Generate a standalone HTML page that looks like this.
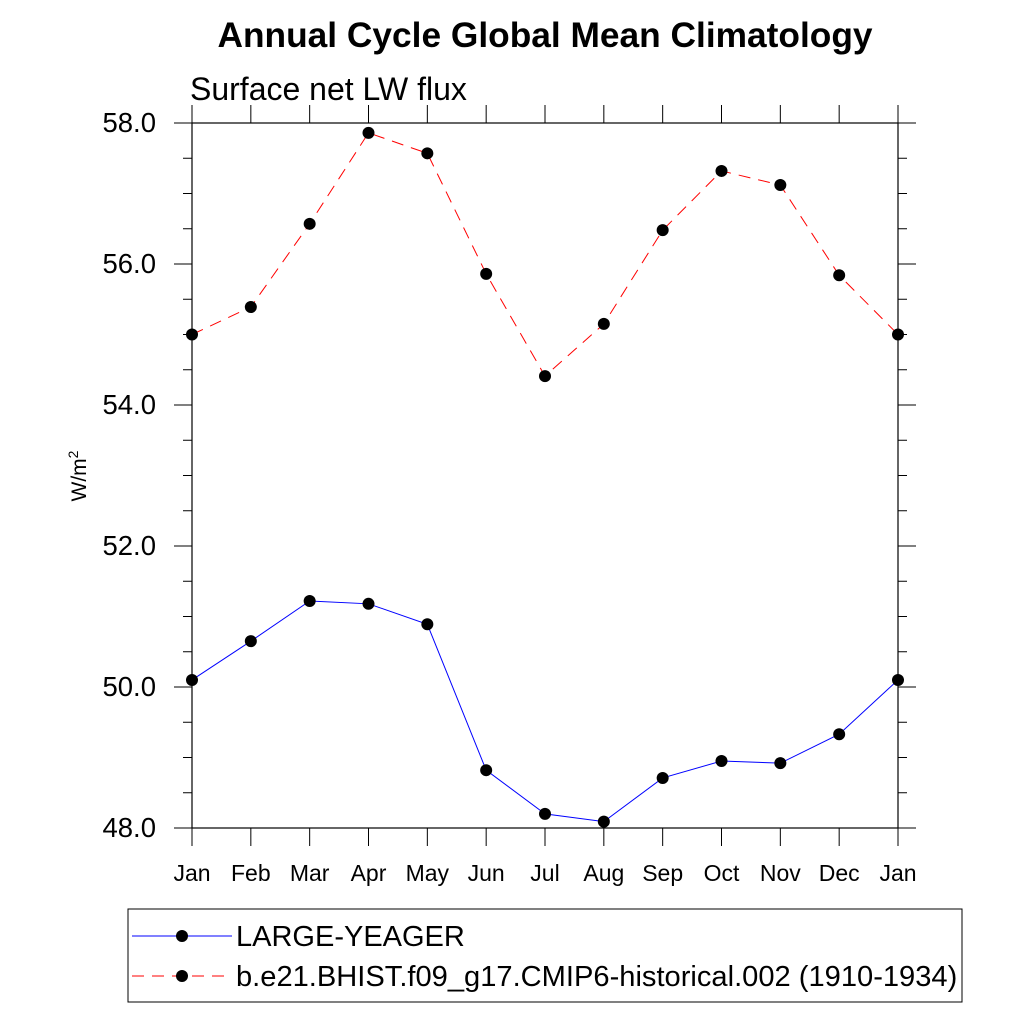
<!DOCTYPE html>
<html><head><meta charset="utf-8"><style>
body{margin:0;background:#fff}
svg text{font-family:"Liberation Sans",sans-serif}
</style></head><body>
<svg id="c" width="1024" height="1024" xmlns="http://www.w3.org/2000/svg">
<text x="545" y="47" font-size="35.3" font-weight="bold" text-anchor="middle">Annual Cycle Global Mean Climatology</text>
<text x="190" y="100" font-size="32">Surface net LW flux</text>
<rect x="192" y="123" width="706" height="705" fill="none" stroke="#000" stroke-width="1.2"/>
<text transform="translate(86,476) rotate(-90)" font-size="21" text-anchor="middle">W/m<tspan dy="-8" font-size="14">2</tspan></text>
<g id="axes"></g>
<g id="series"></g>
<rect x="128" y="909" width="834" height="93" fill="none" stroke="#000" stroke-width="1"/>
<g>
<line x1="132" y1="936" x2="232" y2="936" stroke="#00f" stroke-width="1"/>
<circle cx="182" cy="936" r="6" fill="#000"/>
<text x="236" y="946" font-size="29">LARGE-YEAGER</text>
</g>
<g>
<line x1="132" y1="976" x2="232" y2="976" stroke="#f00" stroke-width="1" stroke-dasharray="12,8"/>
<circle cx="182" cy="976" r="6" fill="#000"/>
<text x="236" y="986" font-size="29.1">b.e21.BHIST.f09_g17.CMIP6-historical.002 (1910-1934)</text>
</g>
</svg>
<script>
const months=["Jan","Feb","Mar","Apr","May","Jun","Jul","Aug","Sep","Oct","Nov","Dec","Jan"];
const blueValues=[50.10,50.65,51.22,51.18,50.89,48.82,48.20,48.09,48.71,48.95,48.92,49.33,50.10];
const redValues=[55.0,55.39,56.57,57.86,57.57,55.86,54.41,55.15,56.48,57.32,57.12,55.84,55.0];
const yTicks=[48,50,52,54,56,58];
const yMin=48,yMax=58;
const NS="http://www.w3.org/2000/svg";
const X=i=>192+i*(898-192)/12;
const Y=v=>828-(v-yMin)/(yMax-yMin)*705;
function mk(t,a,p){const e=document.createElementNS(NS,t);for(const k in a)e.setAttribute(k,a[k]);p.appendChild(e);return e;}
const ax=document.getElementById('axes');
months.forEach((m,i)=>{
 const t=mk('line',{x1:X(i),x2:X(i),y1:828,y2:846,stroke:'#000'},ax);
 
 
 const t2=mk('line',{x1:X(i),x2:X(i),y1:123,y2:105,stroke:'#000'},ax);
 
 
 const l=mk('text',{x:X(i),y:881,'font-size':23,'text-anchor':'middle'},ax);l.textContent=m;
 
 
});
for(let v=yMin;v<=yMax+1e-9;v+=0.5){
 const major=Math.abs(v-Math.round(v/2)*2)<1e-9;
 const len=major?18:9;
 const a=mk('line',{x1:192,x2:192-len,y1:Y(v),y2:Y(v),stroke:'#000'},ax);
 
 
 const b=mk('line',{x1:898,x2:898+len,y1:Y(v),y2:Y(v),stroke:'#000'},ax);
 
 
}
yTicks.forEach(v=>{
 const l=mk('text',{x:156,y:Y(v)+9,'font-size':27.5,'text-anchor':'end'},ax);l.textContent=v.toFixed(1);
 
 
});
const sg=document.getElementById('series');
function series(vals,color,dash,name){
 const g=mk('g',{},sg);
 
 
 const pl=mk('polyline',{points:vals.map((v,i)=>X(i)+','+Y(v)).join(' '),fill:'none',stroke:color,'stroke-width':1,'stroke-dasharray':dash},g);
 
 
 vals.forEach((v,i)=>{
  const c=mk('circle',{cx:X(i),cy:Y(v),r:6,fill:'#000'},g);
  
  
 });
}
series(redValues,'#f00','12,8','bhist-series');
series(blueValues,'#00f','none','large-yeager-series');
</script>
</body></html>
